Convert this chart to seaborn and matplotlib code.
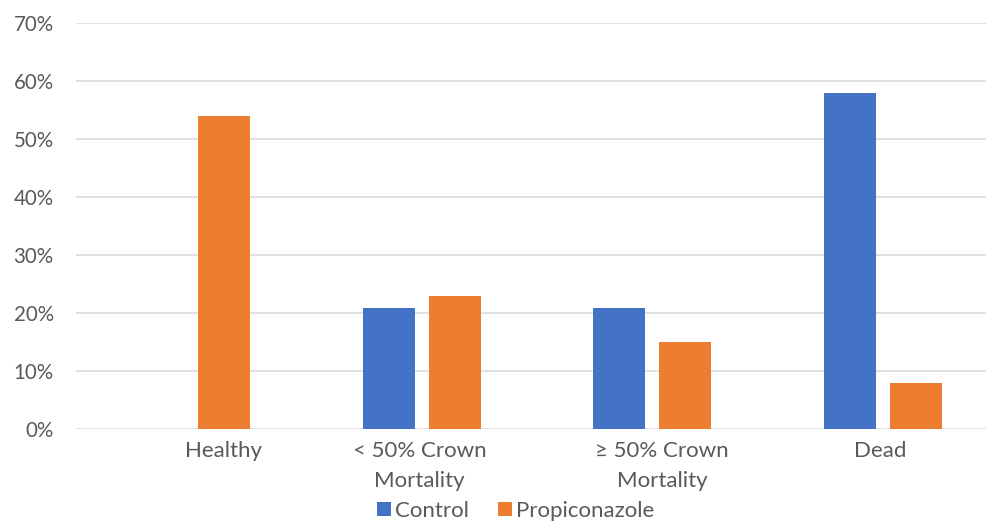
import matplotlib
matplotlib.use("Agg")
import matplotlib.pyplot as plt
import matplotlib.transforms as mtransforms
from matplotlib.patches import Patch
from matplotlib.ticker import PercentFormatter, MultipleLocator
import seaborn as sns
import pandas as pd

# Share of trees in each health class by treatment
categories = ["Healthy", "< 50% Crown\nMortality", "\u2265 50% Crown\nMortality", "Dead"]
treatments = ["Control", "Propiconazole"]
control = [0.00, 0.21, 0.21, 0.58]
propiconazole = [0.54, 0.23, 0.15, 0.08]

colors = {"Control": "#4472C4", "Propiconazole": "#ED7D31"}
text_color = "#595959"
grid_color = "#D9D9D9"

df = pd.DataFrame({
    "category": categories * 2,
    "treatment": [treatments[0]] * len(categories) + [treatments[1]] * len(categories),
    "share": control + propiconazole,
})

sns.set_theme(style="white")
plt.rcParams["font.family"] = ["Lato", "DejaVu Sans"]

fig = plt.figure(figsize=(9.86, 5.23), dpi=100)
W, H = 986, 523
left, right, top, bottom = 76, 998, 23.3, 429.3
ax = fig.add_axes([left / W, 1 - bottom / H, (right - left) / W, (bottom - top) / H])

sns.barplot(data=df, x="category", y="share", hue="treatment", order=categories,
            hue_order=treatments, palette=colors, width=0.573, gap=0.213,
            linewidth=0, saturation=1, legend=False, ax=ax)

ax.set_ylim(0, 0.70)
ax.set_xlim(-0.5, len(categories) - 0.5)
ax.yaxis.set_major_locator(MultipleLocator(0.10))
ax.yaxis.set_major_formatter(PercentFormatter(1.0, decimals=0))
ax.grid(axis="y", color=grid_color, linewidth=1.1)
ax.set_axisbelow(True)
for s in ax.spines.values():
    s.set_visible(False)
ax.set_xlabel("")
ax.set_ylabel("")
ax.tick_params(axis="both", length=0, labelcolor=text_color)
ax.tick_params(axis="y", pad=16, labelsize=14.8)
ax.tick_params(axis="x", pad=8.5, labelsize=16)

# Nudge individual category labels horizontally (pixels)
label_shift = [32, -2, 10, -2]
for lab, dx in zip(ax.get_xticklabels(), label_shift):
    lab.set_linespacing(1.6)
    lab.set_transform(lab.get_transform() + mtransforms.ScaledTranslation(dx / 100, 0, fig.dpi_scale_trans))

handles = [Patch(facecolor=colors[t], edgecolor="none", label=t) for t in treatments]
fig.legend(handles=handles, loc="lower center", bbox_to_anchor=(516 / W, -0.034),
           ncol=2, frameon=False, fontsize=16, labelcolor=text_color,
           handlelength=0.62, handleheight=0.62, handletextpad=0.2, columnspacing=1.3)

fig.savefig("out.png", dpi=100)
